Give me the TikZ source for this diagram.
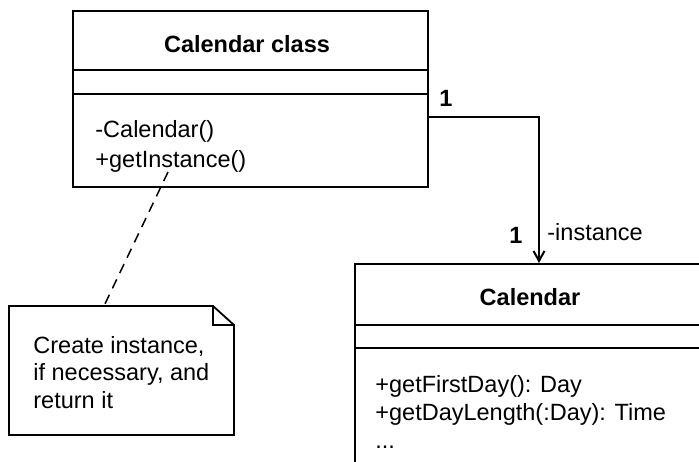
\documentclass[tikz,border=0pt]{standalone}
\usepackage{fontspec}
\setmainfont{Liberation Sans}
\usetikzlibrary{arrows.meta}
\begin{document}
\begin{tikzpicture}[x=0.5pt,y=-0.5pt,
  box/.style={draw,line width=1pt,anchor=north west,inner sep=0pt},
  txt/.style={inner sep=0pt,font=\fontsize{11.75}{14}\selectfont},
  bold/.style={inner sep=0pt,font=\fontsize{11.75}{14}\selectfont\bfseries}]
  \useasboundingbox (0,0) rectangle (699,461);
  \clip (0,0) rectangle (699,461);
  % singleton class
  \node[box,minimum width=177.5pt,minimum height=88pt] (single) at (72,10) {};
  \draw[line width=1pt] (72,70) -- (427,70) (72,94) -- (427,94);
  \node[bold,anchor=base] (singletitle) at (247,52) {Calendar class};
  \node[txt,anchor=base west] (ctor) at (95,137) {-Calendar()};
  \node[txt,anchor=base west] (getinst) at (95,167) {+getInstance()};
  % the one instance
  \node[box,minimum width=184pt,minimum height=110pt] (cal) at (354,263) {};
  \draw[line width=1pt] (354,325) -- (730,325) (354,348) -- (730,348);
  \node[bold,anchor=base] (caltitle) at (530,305) {Calendar};
  \node[txt,anchor=base west] (firstday) at (375,392) {+getFirstDay(): Day};
  \node[txt,anchor=base west] (daylen) at (375,420) {+getDayLength(:Day): Time};
  \node[txt,anchor=base west] (more) at (375,448) {...};
  % association
  \coordinate (port) at (427,117);
  \draw[line width=1pt,-{Straight Barb[length=5pt,width=5.5pt]}] (port) -| (cal.north);
  \node[bold,anchor=base] (multa) at (446,106) {1};
  \node[bold,anchor=base] (multb) at (516,243) {1};
  \node[txt,anchor=base west] (role) at (547,240) {-instance};
  % note
  \draw[line width=0.9pt,fill=white] (9,306) -- (213,306) -- (234,325) -- (234,435) -- (9,435) -- cycle;
  \draw[line width=0.9pt] (213,306) -- (213,325) -- (234,325);
  \node[txt,anchor=base west] (notea) at (33,353) {Create instance,};
  \node[txt,anchor=base west] (noteb) at (33,380) {if necessary, and};
  \node[txt,anchor=base west] (notec) at (33,408) {return it};
  \coordinate (notetop) at (104,306);
  \coordinate (instpt) at (168,172);
  \draw[line width=0.75pt,dash pattern=on 5pt off 3.5pt] (instpt) -- (notetop);
\end{tikzpicture}
\end{document}
